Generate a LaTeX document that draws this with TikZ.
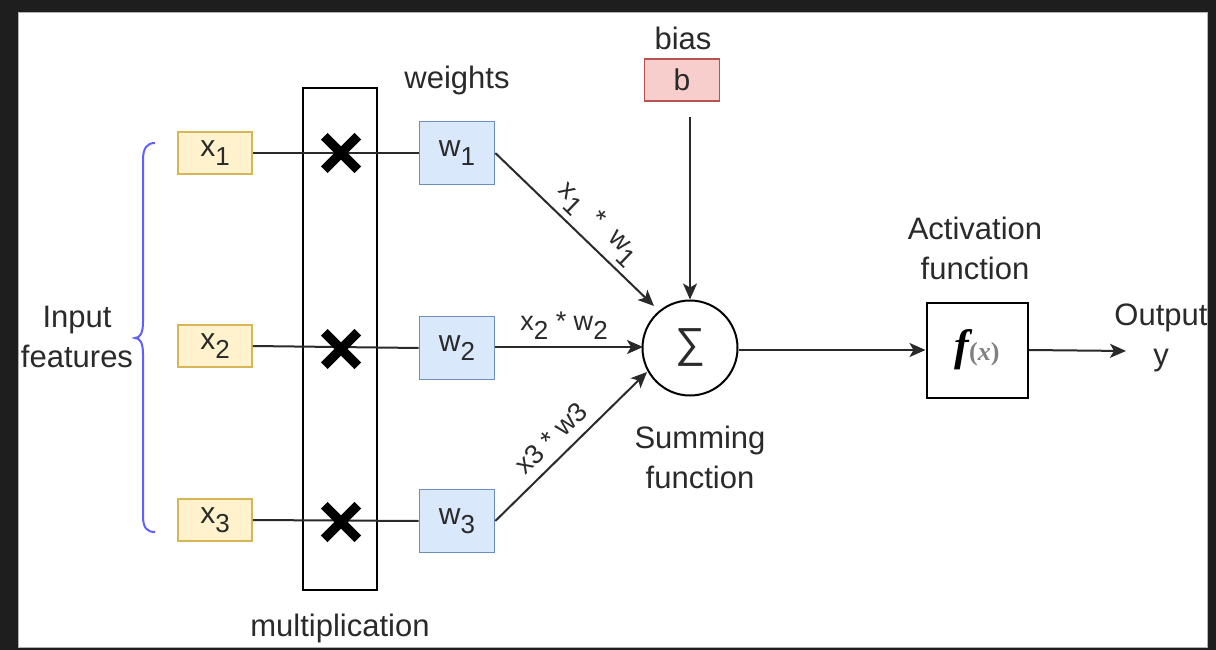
\documentclass[tikz,border=0pt]{standalone}
\usepackage{fontspec}
\setmainfont{Liberation Sans}
\newfontfamily\serifb{Liberation Serif}
\usetikzlibrary{arrows.meta,shapes.misc}
\definecolor{ink}{HTML}{2A2A2A}
\definecolor{xfill}{HTML}{FFF2CC}
\definecolor{xborder}{HTML}{D6B656}
\definecolor{wfill}{HTML}{DAE8FC}
\definecolor{wborder}{HTML}{6C8EBF}
\definecolor{bfill}{HTML}{F8CECC}
\definecolor{bborder}{HTML}{B85450}
\definecolor{bracec}{HTML}{6060FF}
\definecolor{framec}{HTML}{1E1E1E}
\newcommand\sbx[2]{#1\raisebox{-9pt}{\fontsize{26}{26}\selectfont #2}}
\tikzset{
  txt/.style={font=\fontsize{31}{40}\selectfont, text=ink, align=center, inner sep=0pt},
  boxtxt/.style={font=\fontsize{30}{32}\selectfont, text=ink},
  xbox/.style={boxtxt, draw=xborder, fill=xfill, line width=1.6pt, minimum width=74pt, minimum height=42pt, inner sep=0pt},
  wbox/.style={boxtxt, draw=wborder, fill=wfill, line width=1.6pt, minimum width=75pt, minimum height=63pt, inner sep=0pt},
  bbox/.style={boxtxt, draw=bborder, fill=bfill, line width=1.6pt, minimum width=75pt, minimum height=42pt, inner sep=0pt},
  conn/.style={draw=ink, line width=2pt},
  arr/.style={conn, -{Stealth[length=16pt,width=14pt,inset=4pt]}},
  xmark/.style={cross out, draw=black, line width=9.5pt, minimum size=24pt, inner sep=0pt},
  lbl/.style={font=\fontsize{27}{30}\selectfont, text=ink, inner sep=0pt}
}
\begin{document}
\begin{tikzpicture}[x=1pt,y=-1pt]
\useasboundingbox (0,0) rectangle (1216,650);
\fill[white] (0,0) rectangle (1216,650);

% input boxes
\node[xbox] (x1) at (215,153) {\sbx{x}{1}};
\node[xbox] (x2) at (215,346) {\sbx{x}{2}};
\node[xbox] (x3) at (215,520) {\sbx{x}{3}};

% multiplication box
\node[draw=black, line width=2pt, minimum width=74pt, minimum height=502pt, inner sep=0pt] (mult) at (340,339) {};

% weights
\node[wbox] (w1) at (457,153) {\sbx{w}{1}};
\node[wbox] (w2) at (457,348) {\sbx{w}{2}};
\node[wbox] (w3) at (457,521) {\sbx{w}{3}};

% lines through multiplication
\draw[conn] (x1.east) -- (w1.west);
\draw[conn] (x2.east) -- (w2.west);
\draw[conn] (x3.east) -- (w3.west);

\node[xmark] (m1) at (341,153) {};
\node[xmark] (m2) at (341,349) {};
\node[xmark] (m3) at (341,522) {};

% bias
\node[txt] (biaslbl) at (683,38) {bias};
\node[bbox] (b) at (682,80) {b};
\coordinate (bstart) at (690,117);

% summing node
\node[circle, draw=black, line width=2pt, minimum size=95pt, inner sep=0pt, text=ink] (sum) at (690,348) {\fontsize{42}{42}\selectfont ∑};

\coordinate (s1) at (654,306);
\coordinate (s2) at (643,347);
\coordinate (s3) at (647,372);

\draw[arr] (bstart) -- (sum.north);
\draw[arr] (w1.east) -- (s1);
\draw[arr] (w2.east |- s2) -- (s2);
\draw[arr] (w3.east) -- (s3);

% edge labels
\node[lbl, rotate=-44] at (598,224) {\sbx{x}{1}\ \ *\ \ \sbx{w}{1}};
\node[lbl] at (564,326) {\sbx{x}{2}\ *\ \sbx{w}{2}};
\node[lbl, rotate=44] at (551,438) {x3 * w3};

% activation
\node[draw=black, line width=2pt, minimum width=101pt, minimum height=95pt, inner sep=0pt] (f) at (977,350) {{\serifb\bfseries\itshape\fontsize{44}{44}\selectfont f}{\serifb\bfseries\fontsize{26}{26}\selectfont\color{gray}(\textit{x})}};
\draw[arr] (sum.east |- f.west) -- (f.west);
\coordinate (out) at (1126,351);
\draw[arr] (f.east) -- (out);

% texts
\node[txt] (wlbl) at (457,80) {weights};
\node[txt] (alabel) at (975,248) {Activation\\function};
\node[txt] (slabel) at (700,457) {Summing\\function};
\node[txt] (mlabel) at (340,628) {multiplication};
\node[txt] (ilabel) at (77,337) {Input\\features};
\node[txt] (olabel) at (1161,338) {Output\\y};

% brace
\draw[bracec, line width=2pt] (155,143) .. controls (147,143) and (143,148) .. (143,160) -- (143,322) .. controls (143,333) and (140,338) .. (135,338) .. controls (140,338) and (143,343) .. (143,354) -- (143,516) .. controls (143,528) and (147,532) .. (155,532);

% frame
\fill[framec, even odd rule] (0,0) rectangle (1216,650) (18,13) rectangle (1207,647);
\draw[gray!60, line width=1pt] (18,13) rectangle (1207,647);
\end{tikzpicture}
\end{document}
